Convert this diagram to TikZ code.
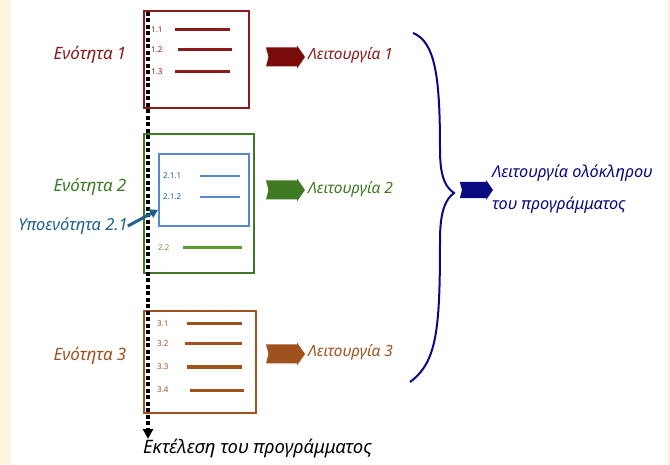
\documentclass[tikz,border=0pt]{standalone}
\usepackage{fontspec}
\setmainfont{Noto Sans}
\usetikzlibrary{arrows.meta}
\definecolor{cRed}{HTML}{8B1A1A}
\definecolor{cRedA}{HTML}{7A0C0C}
\definecolor{cGreen}{HTML}{3E7A22}
\definecolor{cGreenL}{HTML}{5A9E30}
\definecolor{cBlueBox}{HTML}{5585D5}
\definecolor{cTeal}{HTML}{1F5F8B}
\definecolor{cBrown}{HTML}{A0521E}
\definecolor{cNavy}{HTML}{0A0A80}
\definecolor{cCream}{HTML}{FFF5E1}
\begin{document}
\begin{tikzpicture}[x=1pt,y=-1pt,
  box/.style={draw,line width=1.6pt,minimum width=#1,anchor=north west,inner sep=0pt},
  lbl/.style={font=\itshape\fontsize{17}{20}\selectfont,inner sep=0pt},
  flbl/.style={font=\itshape\fontsize{15.5}{18}\selectfont,inner sep=0pt,anchor=west},
  num/.style={font=\bfseries\fontsize{8}{9}\selectfont,inner sep=0pt,anchor=west},
  item/.style={line width=3pt},
  fatarrow/.pic={\fill (-19,-9.5) -- (12,-9.5) -- (12,-11.5) -- (20,0) -- (12,11.5) -- (12,9.5) -- (-19,9.5) -- (-16.5,0) -- cycle;},
  flow/.style={line width=3.2pt,dash pattern=on 4pt off 2.5pt,-{Triangle[width=10pt,length=10pt]}}]
\useasboundingbox (0,0) rectangle (670,465);
\fill[white] (0,0) rectangle (670,465);
\fill[cCream] (0,0) rectangle (11,465);
\fill[cCream] (667,0) rectangle (670,465);

% boxes
\node[box=105pt,minimum height=97pt,draw=cRed] (b1) at (143,10) {};
\node[box=110pt,minimum height=139pt,draw=cGreen] (b2) at (143,133) {};
\node[box=90pt,minimum height=72pt,draw=cBlueBox,line width=1.8pt] (ib) at (158,153) {};
\node[box=112pt,minimum height=102pt,draw=cBrown] (b3) at (143,310) {};

% box 1 items
\node[num,text=cRed] (n11) at (151,30) {1.1};
\node[num,text=cRed] (n12) at (151,50) {1.2};
\node[num,text=cRed] (n13) at (151,72) {1.3};
\draw[item,cRed] (n11.east -| 175,0) -- (n11.east -| 230,0);
\draw[item,cRed] (n12.east -| 178,0) -- (n12.east -| 232,0);
\draw[item,cRed] (n13.east -| 175,0) -- (n13.east -| 230,0);

% box 2 items
\node[num,text=cTeal] (n211) at (163,176) {2.1.1};
\node[num,text=cTeal] (n212) at (163,197) {2.1.2};
\node[num,text=cGreenL] (n22) at (158,248) {2.2};
\draw[item,cBlueBox,line width=2.4pt] (n211.east -| 200,0) -- (n211.east -| 240,0);
\draw[item,cBlueBox,line width=2.4pt] (n212.east -| 200,0) -- (n212.east -| 240,0);
\draw[item,cGreenL] (n22.east -| 183,0) -- (n22.east -| 242,0);

% box 3 items
\node[num,text=cBrown] (n31) at (157,324) {3.1};
\node[num,text=cBrown] (n32) at (157,344) {3.2};
\node[num,text=cBrown] (n33) at (157,367) {3.3};
\node[num,text=cBrown] (n34) at (157,390) {3.4};
\draw[item,cBrown] (n31.east -| 187,0) -- (n31.east -| 242,0);
\draw[item,cBrown] (n32.east -| 185,0) -- (n32.east -| 242,0);
\draw[item,cBrown] (n33.east -| 187,0) -- (n33.east -| 242,0);
\draw[item,cBrown] (n34.east -| 190,0) -- (n34.east -| 244,0);

% execution flow
\coordinate (ftop) at (148,12);
\node[lbl,text=black,anchor=north west,font=\itshape\fontsize{18.5}{20}\selectfont] (exec) at (143,439) {Εκτέλεση του προγράμματος};
\draw[flow] (ftop) -- (exec.north west -| ftop);

% section labels
\node[lbl,text=cRed] (s1) at (90,55) {Ενότητα 1};
\node[lbl,text=cGreen] (s2) at (90,187) {Ενότητα 2};
\node[lbl,text=cTeal,font=\itshape\fontsize{16.5}{18}\selectfont] (s21) at (73,226) {Υποενότητα 2.1};
\node[lbl,text=cBrown] (s3) at (90,356) {Ενότητα 3};
\draw[line width=3pt,cTeal,-{Triangle[width=9pt,length=8pt]}] (s21.east) -- ([yshift=17pt]ib.south west);

% function arrows and labels
\pic[cRedA] (a1) at (285,57) {fatarrow};
\node[flbl,text=cRed] (f1) at (308,55) {Λειτουργία 1};
\pic[cGreen] (a2) at (285,190) {fatarrow};
\node[flbl,text=cGreen] (f2) at (308,189) {Λειτουργία 2};
\pic[cBrown] (a3) at (285,354) {fatarrow};
\node[flbl,text=cBrown] (f3) at (308,352) {Λειτουργία 3};

% brace
\coordinate (bt) at (413,33);
\coordinate (bm) at (454,193);
\coordinate (bb) at (410,382);
\draw[cNavy,line width=2pt] (bt) .. controls (436,42) and (440,80) .. (440,150)
  .. controls (440,180) and (447,188) .. (bm)
  .. controls (446,199) and (440,210) .. (440,240)
  .. controls (440,330) and (437,362) .. (bb);

\pic[cNavy,scale=0.85] (aw) at (476,190) {fatarrow};
\node[flbl,text=cNavy,align=left,font=\itshape\fontsize{16.3}{32}\selectfont] (fw) at (492,189) {Λειτουργία ολόκληρου\\του προγράμματος};
\end{tikzpicture}
\end{document}
